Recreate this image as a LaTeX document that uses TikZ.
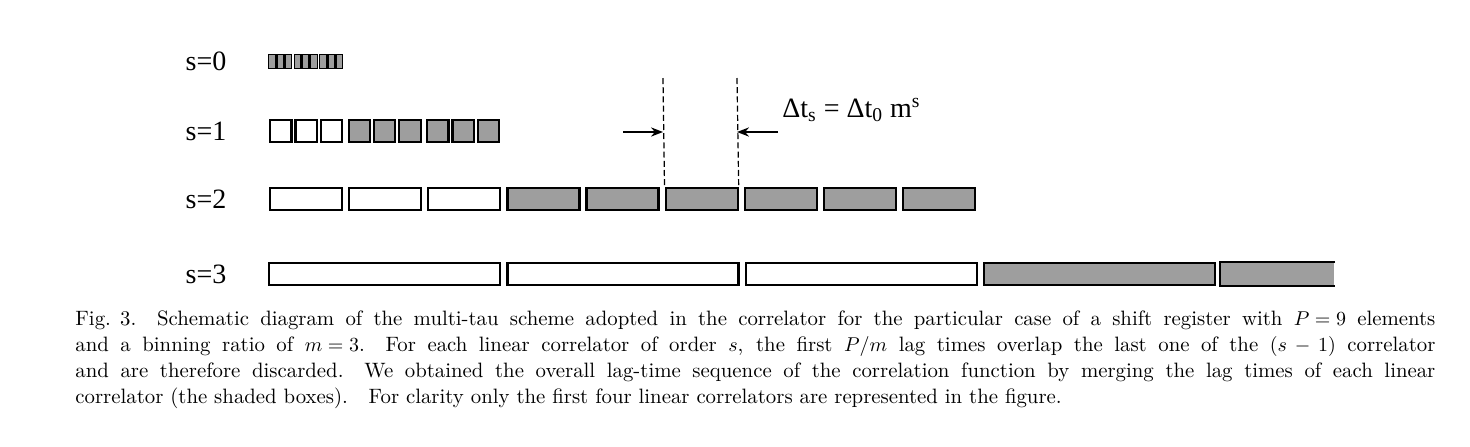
\documentclass[tikz,border=0pt]{standalone}
\usepackage{fontspec}
\newfontfamily\tms{Liberation Serif}
\usetikzlibrary{arrows.meta}
\tikzset{
  reg/.style={draw=black, line width=1.1pt, fill=white, inner sep=0pt, anchor=north west},
  shaded/.style={reg, fill=black!38},
  lbl/.style={font=\tms\fontsize{14}{16}\selectfont, inner sep=0pt},
  captext/.style={font=\fontsize{10.4}{12}\selectfont, inner sep=0pt, anchor=base west},
  dline/.style={line width=0.6pt, dash pattern=on 3pt off 1.6pt},
  arr/.style={line width=0.7pt, -{Stealth[length=6pt,width=4.6pt]}}
}
\begin{document}
\begin{tikzpicture}[x=0.5pt,y=-0.5pt]
\useasboundingbox (0,0) rectangle (1470,446);
% row labels
\node[lbl] (l0) at (206,61) {s=0};
\node[lbl] (l1) at (206,131) {s=1};
\node[lbl] (l2) at (206,199) {s=2};
\node[lbl] (l3) at (206,274) {s=3};
% s=0
\foreach \i in {0,...,8}{
  \pgfmathsetmacro\xl{268+floor(\i/3)*25.5+mod(\i,3)*8.2}
  \node[shaded, line width=0.7pt, minimum width=3.3pt, minimum height=7pt] (a\i) at (\xl,54) {};
}
% s=1
\foreach \i in {0,...,8}{
  \pgfmathsetmacro\xl{269+floor(\i/3)*78.5+mod(\i,3)*25.3}
  \ifnum\i<3 \def\st{reg}\else\def\st{shaded}\fi
  \node[\st, minimum width=10.7pt, minimum height=11pt] (b\i) at (\xl,119) {};
}
% s=2
\foreach \i in {0,...,8}{
  \pgfmathsetmacro\xl{269+\i*79.1}
  \ifnum\i<3 \def\st{reg}\else\def\st{shaded}\fi
  \node[\st, minimum width=36pt, minimum height=11pt] (c\i) at (\xl,187) {};
}
% s=3
\foreach \i in {0,...,3}{
  \pgfmathsetmacro\xl{268+\i*238.3}
  \ifnum\i<3 \def\st{reg}\else\def\st{shaded}\fi
  \node[\st, minimum width=115.5pt, minimum height=11pt] (d\i) at (\xl,262) {};
}
\node[shaded, draw=none, minimum width=56.5pt, minimum height=11pt] (d4) at (1220,262) {};
\draw[line width=1.1pt] (d4.north east) -- (d4.north west) -- (d4.south west) -- (d4.south east);
% dashed marks
\coordinate (t1) at (663,78);
\coordinate (t2) at (737,78);
\draw[dline] (t1) -- (c5.north west);
\draw[dline] (t2) -- (c5.north east);
\coordinate (la) at (623,132);
\coordinate (ra) at (778,132);
\draw[arr] (la) -- (la -| t1);
\draw[arr] (ra) -- (ra -| t2);
\node[lbl, anchor=west] (dt) at (782,110) {Δt\textsubscript{s} = Δt\textsubscript{0} m\textsuperscript{s}};
% caption
\node[captext] (c1) at (75,325) {\makebox[680pt][s]{\mbox{Fig. 3.}\quad Schematic diagram of the multi-tau scheme adopted in the correlator for the particular case of a shift register with \mbox{$P = 9$} elements}};
\node[captext] (c2) at (75,351) {\makebox[680pt][s]{and a binning ratio of \mbox{$m = 3$.}\quad For each linear correlator of order $s$, the first $P/m$ lag times overlap the last one of the \mbox{$(s\,-\,1)$} correlator}};
\node[captext] (c3) at (75,377) {\makebox[680pt][s]{and are therefore discarded.\quad We obtained the overall lag-time sequence of the correlation function by merging the lag times of each linear}};
\node[captext] (c4) at (75,403) {correlator (the shaded boxes).\quad For clarity only the first four linear correlators are represented in the figure.};
\end{tikzpicture}
\end{document}
